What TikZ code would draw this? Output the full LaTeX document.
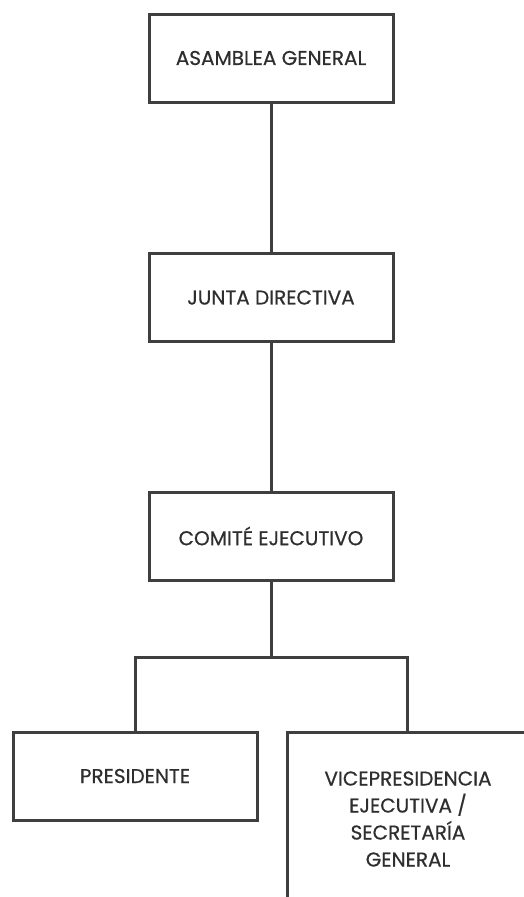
\documentclass[tikz,border=0pt]{standalone}
\usepackage{fontspec}
\setmainfont{Poppins}
\newfontfamily\boxfont[FakeBold=0.6]{Poppins}
\definecolor{linegray}{HTML}{3F3F3F}
\definecolor{textgray}{HTML}{2E2E2E}
\begin{document}
\begin{tikzpicture}[x=1pt,y=-1pt,
  orgbox/.style={draw=linegray, line width=3pt, minimum width=244pt, minimum height=88pt, inner sep=0pt, text=textgray, font=\boxfont\fontsize{20}{27}\selectfont},
  link/.style={draw=linegray, line width=3pt}]
\useasboundingbox (0,0) rectangle (523,897);
\node[orgbox] (asam) at (271,58) {ASAMBLEA GENERAL};
\node[orgbox] (junta) at (271,297.5) {JUNTA DIRECTIVA};
\node[orgbox] (comite) at (271,536) {COMITÉ EJECUTIVO};
\node[orgbox] (pres) at (135,776) {PRESIDENTE};
\coordinate (vicetl) at (287,732);
\coordinate (vicetop) at (407,732);
\coordinate (vicetr) at (530,732);
\coordinate (vicebl) at (287,910);
\node[text=textgray, align=center, font=\boxfont\fontsize{20}{27}\selectfont] (vice) at (408,819) {VICEPRESIDENCIA\\EJECUTIVA /\\SECRETARÍA\\GENERAL};
\draw[link] (vicebl) -- (vicetl) -- (vicetr);
\coordinate (bar) at (271,657);
\draw[link] (asam.south) -- (junta.north);
\draw[link] (junta.south) -- (comite.north);
\draw[link] (comite.south) -- (bar);
\draw[link] (pres.north) |- (bar) -| (vicetop);
\end{tikzpicture}
\end{document}
